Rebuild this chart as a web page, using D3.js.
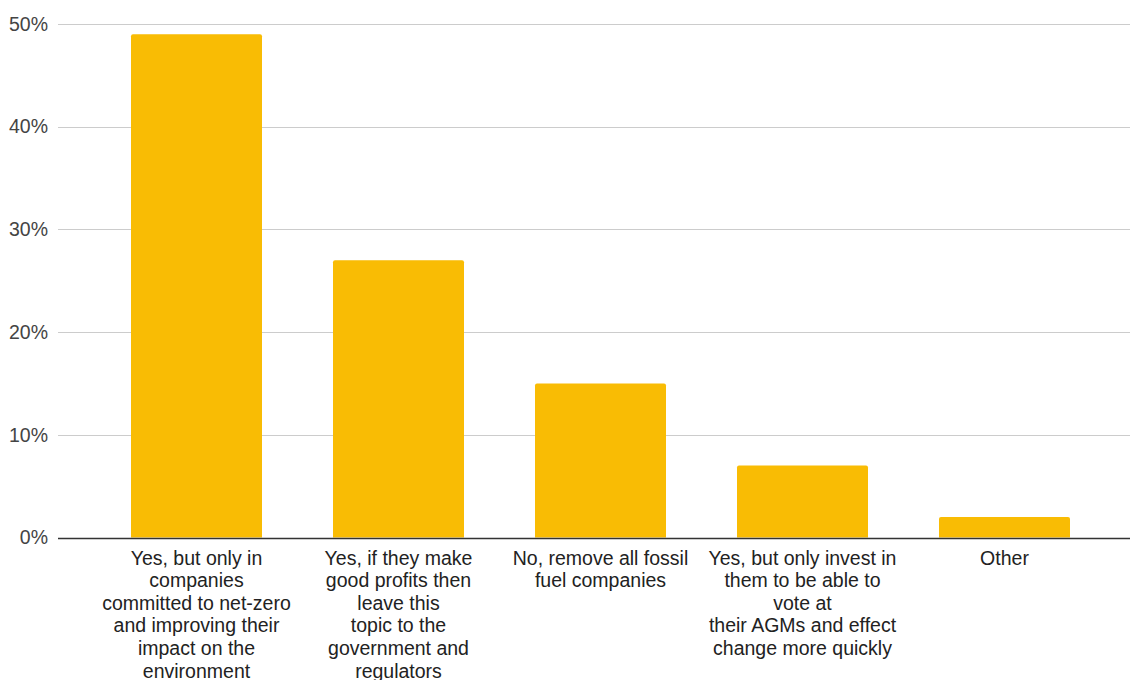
<!DOCTYPE html>
<html>
<head>
<meta charset="utf-8">
<script src="https://cdn.jsdelivr.net/npm/d3@7"></script>
<style>
  html, body { margin: 0; padding: 0; background: #fff; }
  svg { display: block; font-family: "Liberation Sans", Arial, sans-serif; }
</style>
</head>
<body>
<svg id="chart" width="1130" height="680"></svg>
<script>
// Survey answers, each split into the lines shown under its bar
const categories = [
  "Yes, but only in companies committed to net-zero and improving their impact on the environment",
  "Yes, if they make good profits then leave this topic to the government and regulators",
  "No, remove all fossil fuel companies",
  "Yes, but only invest in them to be able to vote at their AGMs and effect change more quickly",
  "Other"
];
const labelLines = [
  ["Yes, but only in", "companies", "committed to net-zero", "and improving their", "impact on the", "environment"],
  ["Yes, if they make", "good profits then", "leave this", "topic to the", "government and", "regulators"],
  ["No, remove all fossil", "fuel companies"],
  ["Yes, but only invest in", "them to be able to", "vote at", "their AGMs and effect", "change more quickly"],
  ["Other"]
];
const shares = [0.49, 0.27, 0.15, 0.07, 0.02];
const yTicks = [0, 0.1, 0.2, 0.3, 0.4, 0.5];

const svg = d3.select("#chart");
const plotLeft = 58, plotRight = 1130;

const x = d3.scaleBand()
  .domain(categories)
  .range([95.5, 1105.5])
  .paddingInner(0.3515)
  .paddingOuter(0.3515 / 2);

const y = d3.scaleLinear().domain([0, 0.5]).range([537.5, 24]);

// horizontal gridlines
svg.append("g")
  .selectAll("line")
  .data(yTicks.filter(d => d > 0))
  .join("line")
  .attr("x1", plotLeft).attr("x2", plotRight)
  .attr("y1", d => Math.round(y(d)) + 0.5)
  .attr("y2", d => Math.round(y(d)) + 0.5)
  .attr("stroke", "#cccccc")
  .attr("stroke-width", 1);

// y tick labels
const yAxis = d3.axisLeft(y)
  .tickValues(yTicks)
  .tickFormat(d3.format(".0%"))
  .tickSize(0)
  .tickPadding(0);
svg.append("g")
  .attr("transform", `translate(48,0)`)
  .call(yAxis)
  .call(g => g.select(".domain").remove())
  .call(g => g.selectAll("text")
    .attr("font-family", "'Liberation Sans', Arial, sans-serif")
    .attr("font-size", 19.5)
    .attr("fill", "#444"));

// bars
svg.append("g")
  .selectAll("path")
  .data(categories.map((c, i) => ({ c, v: shares[i] })))
  .join("path")
  .attr("fill", "#f9bc04")
  .attr("d", d => {
    const x0 = x(d.c), w = x.bandwidth();
    const top = y(d.v), bottom = y(0), r = 2;
    return `M${x0},${bottom}V${top + r}Q${x0},${top} ${x0 + r},${top}` +
      `H${x0 + w - r}Q${x0 + w},${top} ${x0 + w},${top + r}V${bottom}Z`;
  });

// baseline
svg.append("line")
  .attr("x1", plotLeft).attr("x2", plotRight)
  .attr("y1", Math.round(y(0)) + 0.5).attr("y2", Math.round(y(0)) + 0.5)
  .attr("stroke", "#333")
  .attr("stroke-width", 1.3);

// category labels
const labels = svg.append("g")
  .selectAll("text")
  .data(categories.map((c, i) => ({ c, lines: labelLines[i] })))
  .join("text")
  .attr("text-anchor", "middle")
  .attr("font-size", 19.5)
  .attr("fill", "#222");
labels.each(function(d) {
  const t = d3.select(this);
  const cx = x(d.c) + x.bandwidth() / 2;
  d.lines.forEach((line, j) => {
    t.append("tspan")
      .attr("x", cx)
      .attr("y", 564.5 + j * 22.6)
      .text(line);
  });
});
</script>
</body>
</html>
